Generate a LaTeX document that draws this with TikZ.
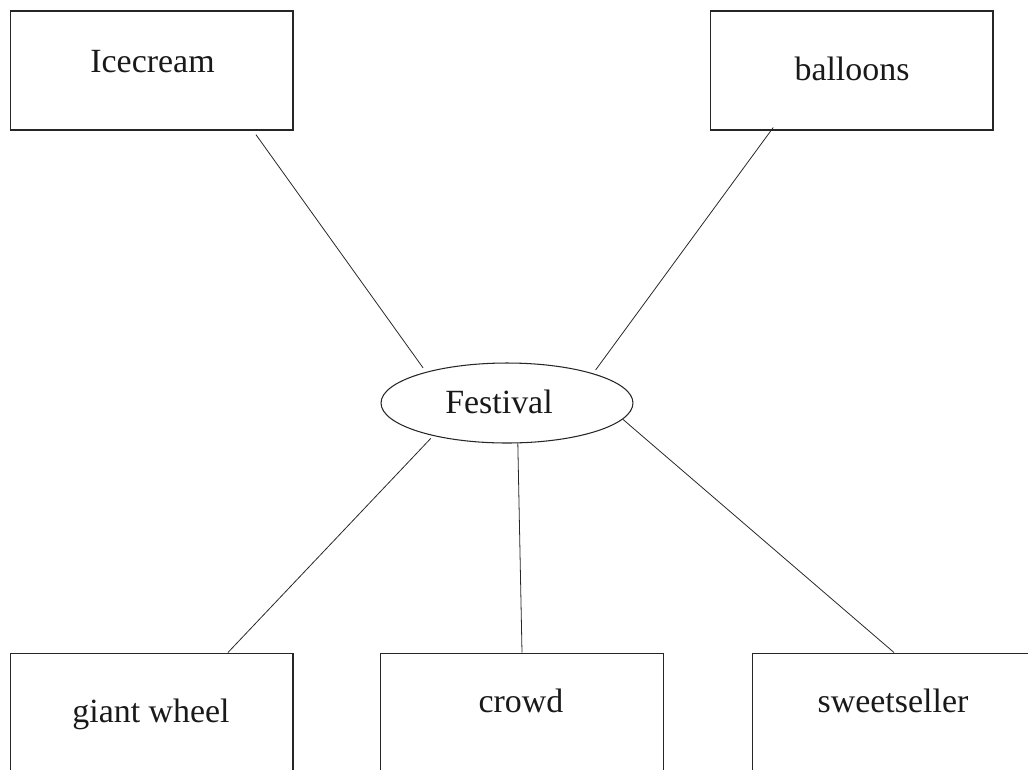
\documentclass[tikz,border=0pt]{standalone}
\usepackage{fontspec}
\setmainfont{Liberation Serif}
\usetikzlibrary{shapes.geometric}
\begin{document}
\begin{tikzpicture}[
        x=0.02cm, y=-0.02cm,
        box/.style={rectangle, draw=black!85, line width=0.6pt, minimum width=5.66cm, minimum height=2.38cm, inner sep=0pt},
        hub/.style={ellipse, draw=black!85, line width=0.6pt, minimum width=5.04cm, minimum height=1.6cm, inner sep=0pt},
        word/.style={inner sep=0pt, font=\fontsize{19.3pt}{23pt}\selectfont, text=black!90},
        link/.style={line width=0.45pt, black!85}
    ]
    \useasboundingbox (0,0) rectangle (1028,769);
    \clip (0,0) rectangle (1028,769);
    % Centre
    \node (festival) at (507,403) [hub] {};
    \node (festivaltxt) at (499,401.5) [word] {Festival};
    % Top boxes
    \node (icecream) at (151.5,70.5) [box] {};
    \node (icecreamtxt) at (152.5,62) [word] {Icecream};
    \node (balloons) at (851.5,70.5) [box] {};
    \node (balloonstxt) at (852,68.5) [word] {balloons};
    % Bottom boxes
    \node (giant) at (151.5,712.5) [box] {};
    \node (gianttxt) at (151,714) [word] {giant wheel};
    \node (crowd) at (522,712.5) [box] {};
    \node (crowdtxt) at (521,700.5) [word] {crowd};
    \node (sweet) at (894,712.5) [box] {};
    \node (sweettxt) at (893,700.5) [word] {sweetseller};
    % Links
    \draw[link, shorten <=0.1cm, shorten >=0.1cm] ([xshift=2.03cm]icecream.south) -- (festival.159);
    \draw[link, shorten <=-0.075cm, shorten >=0.085cm] ([xshift=-1.61cm]balloons.south) -- (festival.19);
    \draw[link, shorten <=0.07cm] (festival.204) -- ([xshift=1.53cm]giant.north);
    \draw[link] (festival.285) -- (crowd.north);
    \draw[link] (festival.352) -- (sweet.north);
\end{tikzpicture}
\end{document}
